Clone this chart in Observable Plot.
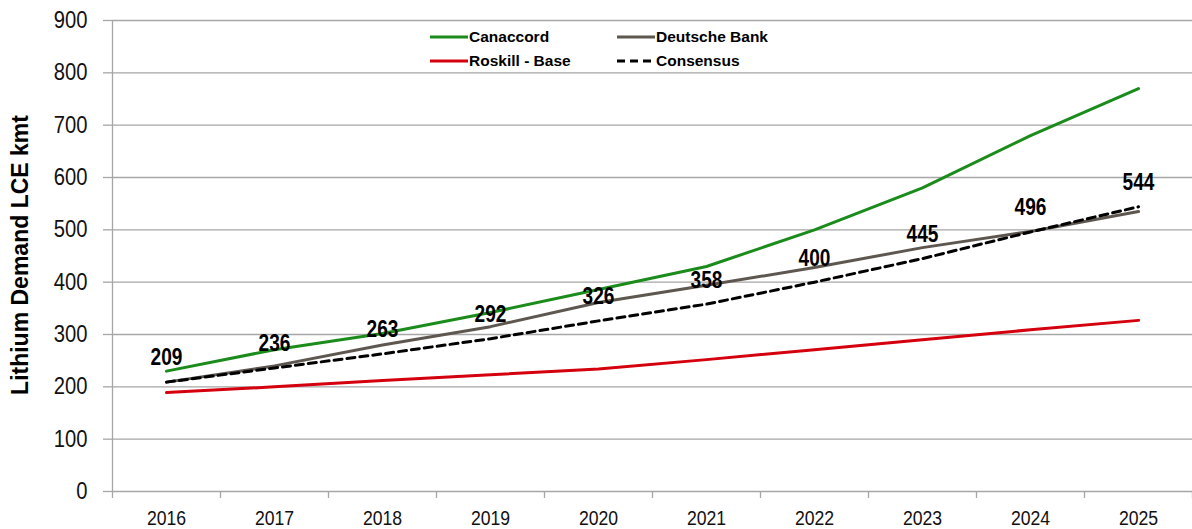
<!DOCTYPE html>
<html>
<head>
<meta charset="utf-8">
<script src="https://cdn.jsdelivr.net/npm/d3@7"></script>
<script src="https://cdn.jsdelivr.net/npm/@observablehq/plot@0.6"></script>
<style>
  html, body { margin: 0; padding: 0; background: #fff; }
  #wrap { position: relative; width: 1192px; height: 529px; }
  .legend { position: absolute; font-family: "Liberation Sans", Arial, sans-serif; font-weight: bold; font-size: 15.5px; color: #000; }
  .legend .item { position: absolute; white-space: nowrap; display: flex; align-items: center; }
  .legend svg { display: block; margin-right: 1px; }
</style>
</head>
<body>
<div id="wrap"></div>
<script>
const years = [2016, 2017, 2018, 2019, 2020, 2021, 2022, 2023, 2024, 2025];
const canaccord = [230, 271, 302, 342, 386, 430, 500, 580, 680, 770];
const deutscheBank = [209, 240, 280, 315, 361, 394, 428, 466, 497, 535];
const roskillBase = [189, 200, 212, 223, 234, 252, 271, 290, 309, 327];
const consensus = [209, 236, 263, 292, 326, 358, 400, 445, 496, 544];
const yTicks = [0, 100, 200, 300, 400, 500, 600, 700, 800, 900];
const xDomain = [2015.5, 2025.5];
const boundaries = [2015.5, 2016.5, 2017.5, 2018.5, 2019.5, 2020.5, 2021.5, 2022.5, 2023.5, 2024.5, 2025.5];

const seriesDefs = [
  {name: "Canaccord", values: canaccord, color: "#1b8c1b", dash: null},
  {name: "Deutsche Bank", values: deutscheBank, color: "#5e5750", dash: null},
  {name: "Roskill - Base", values: roskillBase, color: "#d5000d", dash: null},
  {name: "Consensus", values: consensus, color: "#000000", dash: "8,5"}
];

const sans = "'Liberation Sans', Arial, sans-serif";
const grid = "#a6a6a6";

const lineMarks = seriesDefs.map(s => Plot.line(years.map((yr, i) => ({year: yr, value: s.values[i]})), {
  x: "year", y: "value", stroke: s.color, strokeWidth: 3, strokeDasharray: s.dash || undefined
}));

const labelData = years.map((yr, i) => ({year: yr, value: consensus[i]}));

const chart = Plot.plot({
  width: 1192,
  height: 529,
  marginLeft: 112,
  marginRight: 0,
  marginTop: 20,
  marginBottom: 38,
  x: {type: "linear", domain: xDomain},
  y: {domain: [0, 900]},
  style: {background: "#fff"},
  marks: [
    Plot.ruleY(yTicks, {stroke: grid, strokeWidth: 1.3}),
    Plot.ruleX([xDomain[0]], {stroke: grid, strokeWidth: 1.3}),
    Plot.axisY(yTicks, {
      tickSize: 9, tickPadding: 16, stroke: grid, strokeWidth: 1.3,
      fontSize: 23.5, fontFamily: sans, fill: "#111",
      label: null, tickFormat: d => String(d)
    }),
    Plot.axisX(boundaries, {tickSize: 7, stroke: grid, strokeWidth: 1.3, tickFormat: () => "", label: null}),
    Plot.axisX(years, {
      tickSize: 0, tickPadding: 19, fontSize: 21, fontFamily: sans, fill: "#111",
      tickFormat: d => String(d), label: null
    }),
    ...lineMarks,
    Plot.text(labelData, {
      x: "year", y: "value", text: d => String(d.value), dy: -24,
      fontSize: 23, fontWeight: "bold", fontFamily: sans, fill: "#000"
    })
  ]
});

const wrap = document.getElementById("wrap");
wrap.appendChild(chart);

// horizontally condense text to mimic a narrow typeface
function condense(sel, s) {
  sel.each(function() {
    const b = this.getBBox();
    const anchor = this.getAttribute("text-anchor") || getComputedStyle(this).textAnchor || "start";
    let cx = b.x;
    if (anchor === "middle") cx = b.x + b.width / 2;
    else if (anchor === "end") cx = b.x + b.width;
    const t = this.getAttribute("transform") || "";
    this.setAttribute("transform", `${t} translate(${cx},0) scale(${s},1) translate(${-cx},0)`);
  });
}
const svg = d3.select(chart);
condense(svg.selectAll('g[aria-label="y-axis tick label"] text'), 0.86);
condense(svg.selectAll('g[aria-label="x-axis tick label"] text'), 0.84);
condense(svg.selectAll('g[aria-label="text"] text'), 0.83);

// y-axis title
svg.append("text")
  .attr("transform", "translate(22,255) rotate(-90)")
  .attr("text-anchor", "middle")
  .attr("dominant-baseline", "middle")
  .attr("font-family", sans)
  .attr("font-weight", "bold")
  .attr("font-size", 23)
  .attr("fill", "#000")
  .text("Lithium Demand LCE kmt");

// legend overlay
const legend = document.createElement("div");
legend.className = "legend";
legend.style.left = "0px"; legend.style.top = "0px";
const legendPos = [
  {left: 430, top: 37},
  {left: 617, top: 37},
  {left: 430, top: 61},
  {left: 617, top: 61}
];
seriesDefs.forEach((s, i) => {
  const it = document.createElement("div");
  it.className = "item";
  it.style.left = legendPos[i].left + "px";
  it.style.top = (legendPos[i].top - 10) + "px";
  it.style.height = "20px";
  it.innerHTML = `<svg width="38" height="6"><line x1="0" x2="38" y1="3" y2="3" stroke="${s.color}" stroke-width="3" ${s.dash ? `stroke-dasharray="${s.dash}"` : ""}/></svg><span>${s.name}</span>`;
  legend.appendChild(it);
});
wrap.appendChild(legend);
</script>
</body>
</html>
